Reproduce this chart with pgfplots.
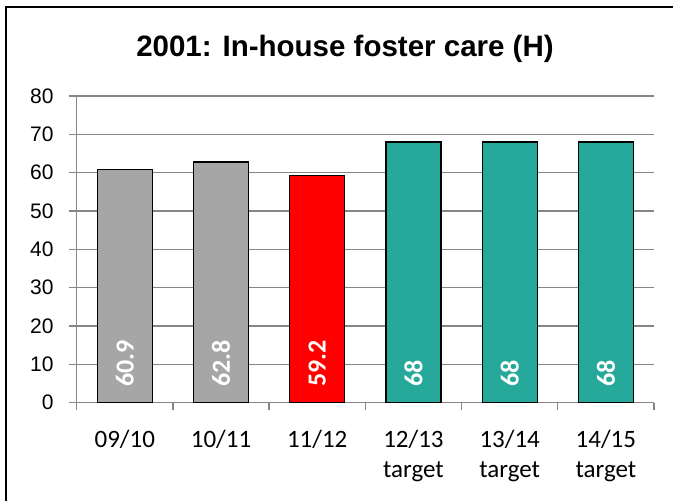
\documentclass[border=0pt]{standalone}
\usepackage{pgfplots}
\pgfplotsset{compat=1.18}
\usepackage{fontspec}
\setmainfont{Carlito}
\newfontfamily\arial{Liberation Sans}
\definecolor{bargray}{RGB}{166,166,166}
\definecolor{barred}{RGB}{255,0,0}
\definecolor{barteal}{RGB}{38,168,155}
\definecolor{gridgray}{RGB}{134,134,134}
\begin{document}
\begin{tikzpicture}[x=1pt,y=1pt]
\useasboundingbox (0,0) rectangle (673,501);
\draw[line width=2.5pt] (6,-20) -- (6,494) -- (690,494);
\node[anchor=base, font=\arial\bfseries\fontsize{29.5}{34}\selectfont, inner sep=0] at (345,444.3) {2001: In-house foster care (H)};
\begin{axis}[at={(76.7pt,98.3pt)}, anchor=south west, scale only axis,
  width=577.3pt, height=306.7pt,
  xmin=-0.5, xmax=5.5, ymin=0, ymax=80, ytick={0,10,...,80},
  xtick={0,...,5},
  xticklabels={09/10,10/11,11/12,{12/13\\target},{13/14\\target},{14/15\\target}},
  minor xtick={-0.5,0.5,...,5.5},
  axis x line*=bottom, axis y line*=left,
  ymajorgrids, grid style={gridgray, line width=1.3pt},
  axis line style={gridgray, line width=1.5pt},
  tick style={gridgray, line width=1.3pt},
  major x tick style={draw=none},
  major tick length=8pt, minor tick length=7pt, tick align=outside,
  /pgf/number format/assume math mode=true,
  yticklabel style={font=\arial\fontsize{21}{25}\selectfont, inner sep=0, anchor=east, xshift=-15pt},
  xticklabel style={font=\fontsize{25}{30}\selectfont, align=center, anchor=north, inner sep=0, text=black, yshift=-19pt},
  clip=false,
]
\addplot[ybar, bar width=0.572, bar shift=0pt, fill=bargray, draw=black, line width=1.2pt] coordinates {(0,60.9) (1,62.8)};
\addplot[ybar, bar width=0.572, bar shift=0pt, fill=barred, draw=black, line width=1.2pt] coordinates {(2,59.2)};
\addplot[ybar, bar width=0.572, bar shift=0pt, fill=barteal, draw=black, line width=1.2pt] coordinates {(3,68) (4,68) (5,68)};
\addplot[only marks, mark=none, point meta=explicit symbolic, nodes near coords,
  every node near coord/.append style={rotate=90, anchor=west, inner sep=0, text=white, font=\bfseries\fontsize{26}{30}\selectfont}]
  coordinates {(0,4.1) [60.9] (1,4.1) [62.8] (2,4.1) [59.2] (3,4.1) [68] (4,4.1) [68] (5,4.1) [68]};
\end{axis}
\end{tikzpicture}
\end{document}
